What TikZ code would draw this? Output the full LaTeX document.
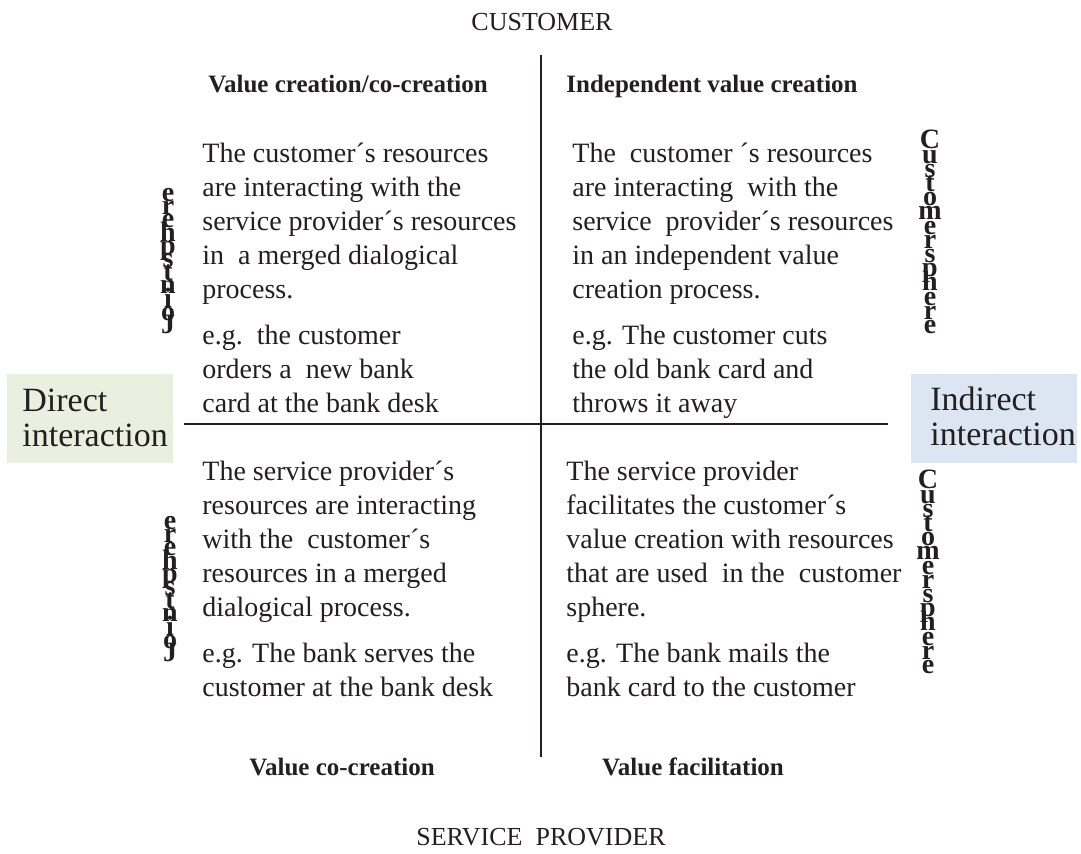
\documentclass[tikz,border=0pt]{standalone}
\usepackage{fontspec}
\setmainfont{Liberation Serif}
\definecolor{inkgray}{HTML}{231F20}
\definecolor{directbg}{HTML}{EBEFDF}
\definecolor{indirectbg}{HTML}{DCE6F2}
\newcommand{\tightlines}{\lineskiplimit -30pt\relax\lineskip 0pt\relax}
\begin{document}
\begin{tikzpicture}[
			x=0.5pt, y=-0.5pt,
			every node/.style = {text=inkgray, inner sep=0pt},
			axis/.style = {draw=inkgray, line width=1.3pt},
			head/.style = {font=\fontsize{12.5}{15}\selectfont\bfseries, anchor=base},
			actor/.style = {font=\fontsize{13}{15}\selectfont, anchor=base},
			body/.style = {font=\fontsize{14}{17}\selectfont, align=left, anchor=north west},
			sidebox/.style = {minimum width=83pt, minimum height=44.5pt, anchor=north west},
			sidetext/.style = {font=\fontsize{17}{17.5}\selectfont, align=left, anchor=north west},
			joint/.style = {font=\fontsize{14}{6.6}\selectfont\bfseries\tightlines, align=center, anchor=north},
			cust/.style = {font=\fontsize{14}{7.1}\selectfont\bfseries\tightlines, align=center, anchor=north},
			]
			\useasboundingbox (0,0) rectangle (1081,854);
			% axes
			\coordinate (top) at (541,55);
			\coordinate (bottom) at (541,757);
			\coordinate (left) at (184,424);
			\coordinate (right) at (888,424);
			\draw[axis] (top) -- (bottom);
			\draw[axis] (left) -- (right);
			\node[actor] (customer) at (542,31) {CUSTOMER};
			\node[actor] (provider) at (541,845) {SERVICE\ \ PROVIDER};
			% quadrant titles
			\node[head] (cocreation) at (348,93) {Value creation/co-creation};
			\node[head] (independent) at (712,93) {Independent value creation};
			\node[head] (valuecoc) at (342,775) {Value co-creation};
			\node[head] (facilitation) at (693,775) {Value facilitation};
			% quadrant texts
			\node[body] (tl) at (202,143) {The customer´s resources\\are interacting with the\\service provider´s resources\\in\ \ a merged dialogical\\process.\\[6pt]e.g.\ \ the customer\\orders a\ \ new bank\\card at the bank desk};
			\node[body] (tr) at (572,143) {The\ \ customer\ ´s resources\\are interacting\ \ with the\\service\ \ provider´s resources\\in an independent value\\creation process.\\[6pt]e.g. The customer cuts\\the old bank card and\\throws it away};
			\node[body] (bl) at (202,461) {The service provider´s\\resources are interacting\\with the\ \ customer´s\\resources in a merged\\dialogical process.\\[6pt]e.g. The bank serves the\\customer at the bank desk};
			\node[body] (br) at (566,461) {The service provider\\facilitates the customer´s\\value creation with resources\\that are used\ \ in the\ \ customer\\sphere.\\[6pt]e.g. The bank mails the\\bank card to the customer};
			% side labels
			\node[sidebox, fill=directbg] (directbox) at (7,374) {};
			\node[sidetext] (direct) at (22,389) {Direct\\interaction};
			\node[sidebox, fill=indirectbg] (indirectbox) at (911,374) {};
			\node[sidetext] (indirect) at (930,387) {Indirect\\interaction};
			% stacked sphere labels
			\node[joint] (jointup) at (168,188) {e\\r\\e\\h\\p\\s\\t\\n\\i\\o\\J};
			\node[joint] (jointdown) at (170,516) {e\\r\\e\\h\\p\\s\\t\\n\\i\\o\\J};
			\node[cust] (custup) at (930,130) {C\\u\\s\\t\\o\\m\\e\\r\\s\\p\\h\\e\\r\\e};
			\node[cust] (custdown) at (928,470) {C\\u\\s\\t\\o\\m\\e\\r\\s\\p\\h\\e\\r\\e};
		\end{tikzpicture}
\end{document}
